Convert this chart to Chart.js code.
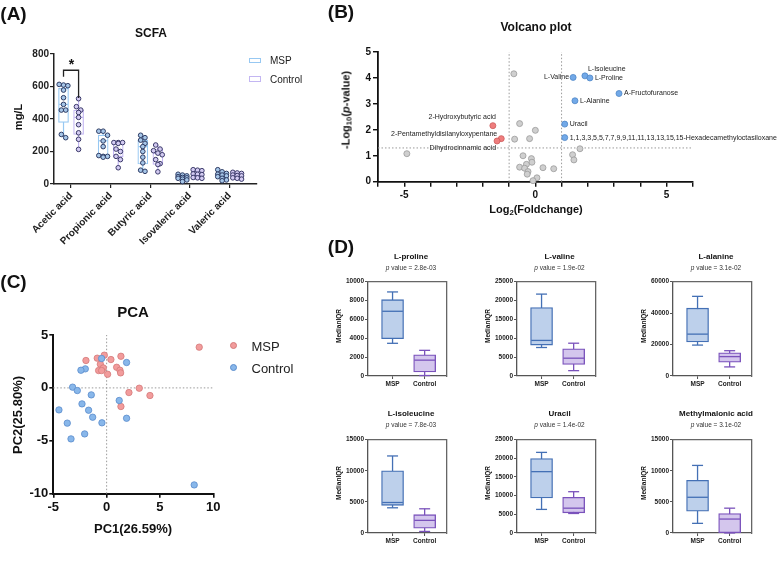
<!DOCTYPE html>
<html lang="en">
<head>
<meta charset="UTF-8">
<meta name="viewport" content="width=device-width, initial-scale=1.0">
<title>SCFA, volcano plot, PCA and metabolite box plots</title>
<script src="https://cdn.jsdelivr.net/npm/chart.js@4.4.0/dist/chart.umd.min.js"></script>
<style>
    body { margin: 0; background: #fff; font-family: Arial, "Liberation Sans", Helvetica, sans-serif; color: #111; }
    #page { position: relative; width: 783px; height: 568px; overflow: hidden; }
    .chart { position: absolute; }
    .txt { position: absolute; white-space: nowrap; line-height: 1; transform: translate(-50%, -50%); }
    .txt.rot { transform: translate(-50%, -50%) rotate(-90deg); }
    .panel { font-size: 19px; font-weight: bold; }
    sub { font-size: 70%; vertical-align: -0.3em; line-height: 0; }
    .key { position: absolute; box-sizing: border-box; }
</style>
</head>
<body>
<div id="page"></div>

<script>
    // ---------- (A) SCFA ----------
    const scfaAcids = ['Acetic acid', 'Propionic acid', 'Butyric acid', 'Isovaleric acid', 'Valeric acid'];
    const scfaGroups = ['MSP', 'Control'];
    const scfaMspDots = [
        [613, 609, 605, 578, 531, 490, 455, 455, 305, 285],
        [325, 325, 300, 265, 230, 175, 170, 170, 165],
        [300, 285, 270, 250, 230, 200, 165, 130, 85, 78],
        [60, 55, 50, 45, 40, 38, 35, 30, 25, 15],
        [88, 75, 65, 60, 55, 50, 45, 35, 25, 20]
    ];
    const scfaControlDots = [
        [525, 476, 455, 440, 410, 365, 315, 275, 213],
        [255, 255, 255, 250, 215, 200, 170, 150, 100],
        [240, 215, 205, 190, 180, 150, 125, 120, 75],
        [88, 85, 82, 62, 60, 58, 40, 38, 35],
        [72, 68, 65, 55, 52, 50, 38, 35, 30]
    ];
    // [min, q1, median, q3, max]
    const scfaMspBox = [[285, 379, 490, 589, 613], [165, 176, 266, 301, 325], [78, 123, 230, 270, 300], [15, 30, 40, 50, 60], [20, 35, 52, 65, 88]];
    const scfaControlBox = [[213, 305, 410, 455, 525], [100, 168, 209, 254, 255], [75, 121, 189, 215, 240], [35, 40, 60, 82, 88], [30, 35, 50, 65, 72]];
    const scfaYMax = 800, scfaYStep = 200;
    // significance bracket on acetic acid: left leg end, bar height, right leg end
    const scfaBracket = [660, 700, 530];

    // ---------- (B) volcano ----------
    const upNames = ['L-Isoleucine', 'L-Proline', 'L-Valine', 'A-Fructofuranose', 'L-Alanine', 'Uracil',
        '1,1,3,3,5,5,7,7,9,9,11,11,13,13,15,15-Hexadecamethyloctasiloxane'];
    const upFC = [1.89, 2.08, 1.44, 3.19, 1.51, 1.12, 1.12];
    const upP = [4.08, 4.00, 4.02, 3.40, 3.12, 2.22, 1.70];
    const downNames = ['2-Hydroxybutyric acid', '2-Pentamethyldisilanyloxypentane', 'Dihydrocinnamic acid'];
    const downFC = [-1.62, -1.30, -1.46];
    const downP = [2.16, 1.66, 1.57];
    const nsFC = [-4.90, -0.82, -0.60, 0.00, -0.79, -0.22, 1.70, 1.42, 1.47, -0.47, -0.15, -0.13, -0.34, -0.60, -0.41, -0.28, -0.31, 0.29, 0.70, 0.06, -0.09];
    const nsP = [1.08, 4.16, 2.24, 1.98, 1.64, 1.66, 1.27, 1.04, 0.84, 1.00, 0.89, 0.75, 0.67, 0.56, 0.52, 0.39, 0.29, 0.54, 0.50, 0.15, 0.04];
    const volcanoX = [-6, 6], volcanoY = [0, 5];
    const fcCut = 1, pCut = -Math.log10(0.05);

    // ---------- (C) PCA ----------
    const mspPC1 = [8.68, -1.94, -0.88, -0.22, 0.40, 1.34, -0.59, -0.31, -0.75, -0.47, 0.94, 1.25, 1.31, 0.09, 3.06, 2.09, 4.06, 1.34];
    const mspPC2 = [3.85, 2.59, 2.81, 3.09, 2.68, 2.99, 2.24, 1.89, 1.64, 1.64, 1.95, 1.67, 1.42, 1.29, -0.03, -0.44, -0.72, -1.76];
    const ctrlPC1 = [-0.47, 1.87, -2.00, -2.41, -3.19, -2.75, -1.44, 1.18, -2.31, -4.47, -1.69, -1.31, 1.87, -0.44, -3.69, -2.06, -3.34, 8.21];
    const ctrlPC2 = [2.78, 2.40, 1.80, 1.67, 0.07, -0.25, -0.66, -1.19, -1.51, -2.08, -2.11, -2.77, -2.87, -3.30, -3.33, -4.35, -4.82, -9.17];
    const pcaX = [-5, 10], pcaY = [-10, 5];

    // ---------- (D) metabolite box plots ----------
    const metabolites = ['L-proline', 'L-valine', 'L-alanine', 'L-isoleucine', 'Uracil', 'Methylmalonic acid'];
    const pValues = ['2.8e-03', '1.9e-02', '3.1e-02', '7.8e-03', '1.4e-02', '3.1e-02'];
    const boxYMax = [10000, 25000, 60000, 15000, 25000, 15000];
    const boxYStep = [2000, 5000, 20000, 5000, 5000, 5000];
    // [min, q1, median, q3, max]
    const mspStats = [
        [3465, 3960, 6860, 8090, 8910],
        [7550, 8190, 9430, 18120, 21700],
        [19660, 21690, 26630, 43140, 50650],
        [4050, 4450, 4900, 10000, 12380],
        [6320, 9390, 16430, 19920, 21590],
        [1550, 3490, 5740, 8470, 10860]
    ];
    const controlStats = [
        [50, 430, 1680, 2250, 2720],
        [1420, 3080, 4720, 7200, 8690],
        [5780, 8760, 12330, 14720, 16090],
        [250, 760, 2030, 2940, 3890],
        [5230, 5400, 6650, 9560, 11060],
        [0, 50, 2240, 3140, 3990]
    ];

    const FONT = 'Arial, "Liberation Sans", Helvetica, sans-serif';
    Chart.defaults.font.family = FONT;
    Chart.defaults.animation = false;
    Chart.defaults.events = [];
    Chart.defaults.plugins.legend.display = false;
    Chart.defaults.plugins.tooltip.enabled = false;

    const page = document.getElementById('page');

    function addChart(left, top, width, height, config) {
        const div = document.createElement('div');
        div.className = 'chart';
        div.style.cssText = `left:${left}px;top:${top}px;width:${width}px;height:${height}px;`;
        const canvas = document.createElement('canvas');
        div.appendChild(canvas);
        page.appendChild(div);
        config.options = Object.assign({ responsive: true, maintainAspectRatio: false }, config.options);
        return new Chart(canvas, config);
    }

    function addText(html, x, y, style, rotate) {
        const el = document.createElement('div');
        el.className = rotate ? 'txt rot' : 'txt';
        el.innerHTML = html;
        el.style.cssText += `left:${x}px;top:${y}px;${style || ''}`;
        page.appendChild(el);
        return el;
    }

    function addKey(x, y, w, h, style) {
        const el = document.createElement('div');
        el.className = 'key';
        el.style.cssText = `left:${x - w / 2}px;top:${y - h / 2}px;width:${w}px;height:${h}px;${style}`;
        page.appendChild(el);
    }

    // linear axis with fixed size so the plot area lands where the figure has it
    function linAxis(o) {
        const color = o.color || '#111';
        return {
            type: 'linear', min: o.min, max: o.max, offset: false,
            afterBuildTicks: o.buildTicks,
            ticks: Object.assign({
                stepSize: o.step, autoSkip: false, padding: o.pad, color, font: o.font,
                maxRotation: 0, minRotation: 0, callback: v => String(v)
            }, o.ticks || {}),
            grid: { display: true, offset: false, drawOnChartArea: false, drawTicks: true, tickLength: o.tick, color, lineWidth: o.border * 0.8 },
            border: { display: true, color, width: o.border },
            afterFit: s => { if (o.horizontal) s.height = o.fit; else s.width = o.fit; }
        };
    }

    function boxParts(xs, stats, st) {
        const sets = [
            { type: 'bar', data: xs.map((x, i) => ({ x, y: [stats[i][0], stats[i][4]] })),
              backgroundColor: st.line, borderWidth: 0, inflateAmount: 0, barThickness: st.lw, grouped: false, order: 5 },
            { type: 'bar', data: xs.map((x, i) => ({ x, y: [stats[i][1], stats[i][3]] })),
              backgroundColor: st.fill, borderColor: st.line, borderWidth: st.lw, borderSkipped: false,
              barThickness: st.width, grouped: false, order: 4 },
            { type: 'scatter', data: xs.map((x, i) => ({ x, y: stats[i][2] })), clip: false,
              pointStyle: 'line', pointRadius: st.width / 2 - st.lw / 2, pointBorderColor: st.line, pointBorderWidth: st.lw, order: 3 }
        ];
        if (st.cap) {
            sets.push({ type: 'scatter', data: xs.flatMap((x, i) => [{ x, y: stats[i][0] }, { x, y: stats[i][4] }]), clip: false,
                pointStyle: 'line', pointRadius: st.cap, pointBorderColor: st.line, pointBorderWidth: st.lw, order: 3 });
        }
        return sets;
    }

    // spread dots of similar value side by side, at most three in a row
    function spread(values, center, gap) {
        const sorted = values.slice().sort((a, b) => b - a);
        const rows = [];
        sorted.forEach(v => {
            const row = rows[rows.length - 1];
            if (row && row.length < 3 && row[0] - v < 30) row.push(v); else rows.push([v]);
        });
        const pts = [];
        rows.forEach(row => row.forEach((v, k) => pts.push({ x: center + (k - (row.length - 1) / 2) * gap, y: v })));
        return pts;
    }

    function pointSet(xs, ys, fill, line, radius, order) {
        return { type: 'scatter', data: xs.map((x, i) => ({ x, y: ys[i] })), clip: false,
            pointRadius: radius, pointBackgroundColor: fill, pointBorderColor: line, pointBorderWidth: 0.8, order };
    }

    function refLine(points) {
        return { type: 'line', data: points, borderColor: '#9a9a9a', borderWidth: 1, borderDash: [1.5, 2],
            pointRadius: 0, clip: false, order: 20 };
    }

    // ================= (A) =================
    const shift = 0.19;
    const mspX = scfaAcids.map((_, i) => i - shift);
    const ctrlX = scfaAcids.map((_, i) => i + shift);
    addChart(0, 0, 330, 250, {
        type: 'bar',
        data: { datasets: [
            ...boxParts(mspX, scfaMspBox, { line: '#97c8f2', fill: '#ffffff', width: 10, lw: 1.2 }),
            ...boxParts(ctrlX, scfaControlBox, { line: '#c3b6f2', fill: '#ffffff', width: 10, lw: 1.2 }),
            { type: 'scatter', data: scfaMspDots.flatMap((v, i) => spread(v, mspX[i], 0.11)), clip: false,
              pointRadius: 2.3, pointBackgroundColor: '#a6c6e8', pointBorderColor: '#2d3b63', pointBorderWidth: 1, order: 1 },
            { type: 'scatter', data: scfaControlDots.flatMap((v, i) => spread(v, ctrlX[i], 0.11)), clip: false,
              pointRadius: 2.3, pointBackgroundColor: '#d3cbf2', pointBorderColor: '#393868', pointBorderWidth: 1, order: 1 },
            { type: 'line', data: [
                { x: mspX[0], y: scfaBracket[0] }, { x: mspX[0], y: scfaBracket[1] },
                { x: ctrlX[0], y: scfaBracket[1] }, { x: ctrlX[0], y: scfaBracket[2] }],
              borderColor: '#222', borderWidth: 1.3, pointRadius: 0, clip: false, order: 0 }
        ]},
        options: {
            layout: { padding: { left: 0, right: 73, top: 54, bottom: 0 } },
            scales: {
                x: linAxis({ min: -0.43, max: 4.69, font: { size: 10, weight: 'bold' }, color: '#222', border: 1.5, tick: 4, pad: 2,
                    fit: 66, horizontal: true,
                    buildTicks: s => { s.ticks = scfaAcids.map((_, i) => ({ value: i })); },
                    ticks: { callback: v => scfaAcids[v], minRotation: 45, maxRotation: 45 } }),
                y: linAxis({ min: 0, max: scfaYMax, step: scfaYStep, font: { size: 10, weight: 'bold' }, color: '#222', border: 1.5,
                    tick: 4, pad: 1, fit: 54 })
            }
        }
    });

    // ================= (B) =================
    const labelOffsets = {
        'L-Isoleucine': { dx: 3, dy: -7 },
        'L-Valine': { dx: -4, align: 'right' },
        '2-Hydroxybutyric acid': { dx: 3, dy: -9, align: 'right' },
        '2-Pentamethyldisilanyloxypentane': { dx: -4, dy: -5, align: 'right' },
        'Dihydrocinnamic acid': { dx: -1, dy: 7, align: 'right' }
    };
    const volcanoLabels = {
        id: 'volcanoLabels',
        afterDatasetsDraw(chart) {
            const { ctx, scales: { x, y } } = chart;
            ctx.save();
            ctx.font = '7px ' + FONT;
            ctx.fillStyle = '#222';
            ctx.textBaseline = 'middle';
            const draw = (names, fc, p) => names.forEach((name, i) => {
                const off = labelOffsets[name] || {};
                ctx.textAlign = off.align || 'left';
                ctx.fillText(name, x.getPixelForValue(fc[i]) + (off.dx ?? 5), y.getPixelForValue(p[i]) + (off.dy ?? 0));
            });
            draw(upNames, upFC, upP);
            draw(downNames, downFC, downP);
            ctx.restore();
        }
    };
    addChart(330, 0, 453, 230, {
        type: 'scatter',
        data: { datasets: [
            refLine([{ x: -fcCut, y: volcanoY[0] }, { x: -fcCut, y: volcanoY[1] }]),
            refLine([{ x: fcCut, y: volcanoY[0] }, { x: fcCut, y: volcanoY[1] }]),
            refLine([{ x: volcanoX[0], y: pCut }, { x: volcanoX[1], y: pCut }]),
            pointSet(nsFC, nsP, '#cfcfcf', '#9a9a9a', 3, 3),
            pointSet(downFC, downP, '#ef7d7d', '#cc5c5c', 3, 2),
            pointSet(upFC, upP, '#72a9e8', '#4f86c6', 3, 1)
        ]},
        options: {
            layout: { padding: { left: 0, right: 90.3, top: 52, bottom: 0 } },
            scales: {
                x: linAxis({ min: volcanoX[0], max: volcanoX[1], step: 1, font: { size: 10, weight: 'bold' }, border: 1.8, tick: 5, pad: 3,
                    fit: 48.3, horizontal: true, ticks: { callback: v => (v % 5 === 0 ? String(v) : '') } }),
                y: linAxis({ min: volcanoY[0], max: volcanoY[1], step: 1, font: { size: 10, weight: 'bold' }, border: 1.8, tick: 5, pad: 2, fit: 48 })
            }
        },
        plugins: [volcanoLabels]
    });

    // ================= (C) =================
    addChart(0, 290, 380, 278, {
        type: 'scatter',
        data: { datasets: [
            refLine([{ x: 0, y: pcaY[0] }, { x: 0, y: pcaY[1] }]),
            refLine([{ x: pcaX[0], y: 0 }, { x: pcaX[1], y: 0 }]),
            pointSet(mspPC1, mspPC2, '#f29c9c', '#d47a7a', 3.2, 2),
            pointSet(ctrlPC1, ctrlPC2, '#88b7ea', '#5a8ccc', 3.2, 1)
        ]},
        options: {
            layout: { padding: { left: 0, right: 166.7, top: 45, bottom: 0 } },
            scales: {
                x: linAxis({ min: pcaX[0], max: pcaX[1], step: 5, font: { size: 13, weight: 'bold' }, border: 2, tick: 4, pad: 2,
                    fit: 74.3, horizontal: true }),
                y: linAxis({ min: pcaY[0], max: pcaY[1], step: 5, font: { size: 13, weight: 'bold' }, border: 2, tick: 4, pad: 1, fit: 53.3 })
            }
        }
    });

    // ================= (D) =================
    const colX0 = [368, 516.5, 673];
    const rowTop = [275, 432.5];
    const rowBottom = [376, 532.5];
    const frame = (pos, fit) => ({
        type: 'linear', position: pos, min: 0, max: 1, display: true,
        ticks: { display: false }, grid: { display: false },
        border: { display: true, color: '#666', width: 1.3 },
        afterFit: s => { if (pos === 'top') s.height = fit; else s.width = fit; }
    });
    metabolites.forEach((name, k) => {
        const col = k % 3, row = Math.floor(k / 3);
        const x0 = colX0[col], top = rowTop[row], h = rowBottom[row] - top;
        addChart(x0 - 40, top - 5, 130, h + 25, {
            type: 'bar',
            data: { datasets: [
                ...boxParts([0], [mspStats[k]], { line: '#4470b5', fill: '#bdd0eb', width: 22, lw: 1.3, cap: 5.5 }),
                ...boxParts([1], [controlStats[k]], { line: '#7a52bb', fill: '#d4c6ed', width: 22, lw: 1.3, cap: 5.5 })
            ]},
            options: {
                layout: { padding: { left: 0, right: 7, top: 5, bottom: 0 } },
                scales: {
                    x: linAxis({ min: -0.765, max: 1.676, font: { size: 6.5, weight: 'bold' }, color: '#555', border: 1.3, tick: 3, pad: 1.5,
                        fit: 20, horizontal: true,
                        buildTicks: s => { s.ticks = scfaGroups.map((_, i) => ({ value: i })); },
                        ticks: { callback: v => scfaGroups[v], color: '#222' } }),
                    y: linAxis({ min: 0, max: boxYMax[k], step: boxYStep[k], font: { size: 6.5, weight: 'bold' }, color: '#555', border: 1.3,
                        tick: 3, pad: 1, fit: 40, ticks: { color: '#222' } }),
                    x2: frame('top', 0),
                    y2: frame('right', 0)
                }
            }
        });
        addText(name, x0 + 43, top - 18.3, 'font-size:8px;font-weight:bold;');
        addText(`<i>p</i> value = ${pValues[k]}`, x0 + 43, top - 7.5, 'font-size:6.5px;color:#333;');
        addText('MedianIQR', x0 - 29, (top + rowBottom[row]) / 2, 'font-size:6.5px;font-weight:bold;', true);
    });

    // ---------- titles, axis titles and legends ----------
    addText('(A)', 13.5, 12.5, '', false).classList.add('panel');
    addText('(B)', 341, 11, '', false).classList.add('panel');
    addText('(C)', 13.5, 281, '', false).classList.add('panel');
    addText('(D)', 341, 245.5, '', false).classList.add('panel');

    addText('SCFA', 151, 33, 'font-size:12px;font-weight:bold;');
    addText('mg/L', 17.5, 117, 'font-size:11px;font-weight:bold;', true);
    addText('*', 71.5, 63.5, 'font-size:14px;font-weight:bold;');
    addKey(255, 60.5, 12, 5.5, 'border:1.2px solid #97c8f2;background:#fff;');
    addKey(255, 79, 12, 5.5, 'border:1.2px solid #c3b6f2;background:#fff;');
    addText(scfaGroups[0], 270, 61, 'font-size:10px;transform:translate(0,-50%);color:#222;');
    addText(scfaGroups[1], 270, 79.5, 'font-size:10px;transform:translate(0,-50%);color:#222;');

    addText('Volcano plot', 536, 27, 'font-size:12px;font-weight:bold;');
    addText('-Log<sub>10</sub>(<i>p</i>-value)', 346, 110, 'font-size:11px;font-weight:bold;', true);
    addText('Log<sub>2</sub>(Foldchange)', 536, 209, 'font-size:11px;font-weight:bold;');

    addText('PCA', 133, 311, 'font-size:15px;font-weight:bold;');
    addText('PC2(25.80%)', 17, 415, 'font-size:13px;font-weight:bold;', true);
    addText('PC1(26.59%)', 133, 527.5, 'font-size:13px;font-weight:bold;');
    addKey(233.3, 345.7, 7, 7, 'border-radius:50%;background:#f29c9c;border:0.8px solid #d47a7a;');
    addKey(233.3, 367.3, 7, 7, 'border-radius:50%;background:#88b7ea;border:0.8px solid #5a8ccc;');
    addText(scfaGroups[0], 251.5, 346, 'font-size:13px;transform:translate(0,-50%);color:#222;');
    addText(scfaGroups[1], 251.5, 367.5, 'font-size:13px;transform:translate(0,-50%);color:#222;');
</script>
</body>
</html>
